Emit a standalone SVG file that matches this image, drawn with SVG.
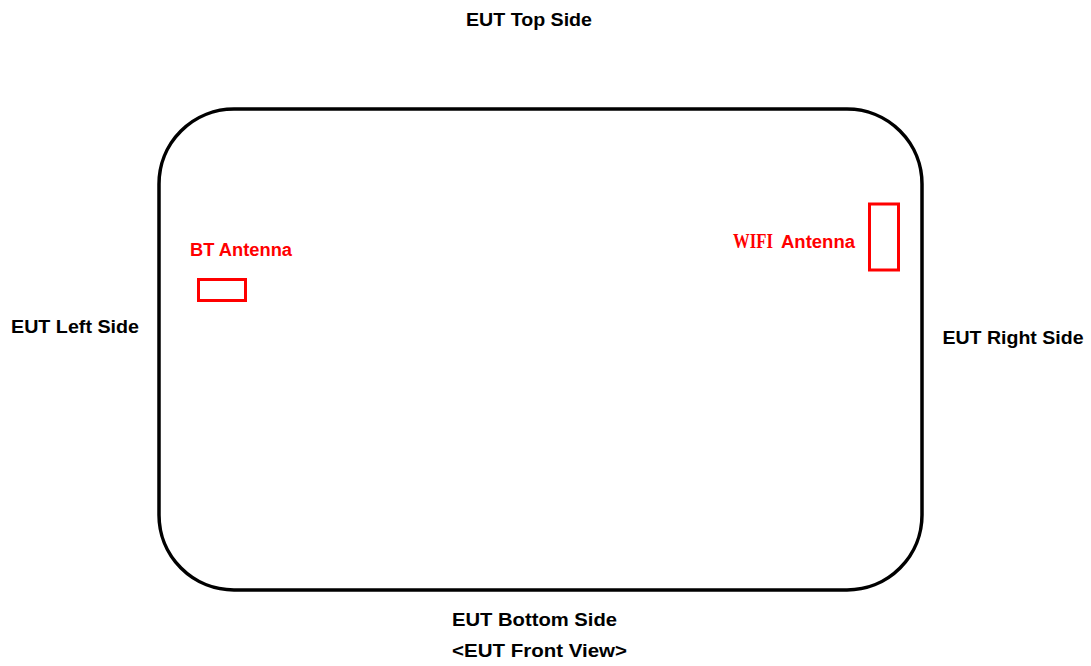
<svg xmlns="http://www.w3.org/2000/svg" width="1091" height="666" viewBox="0 0 1091 666">
<style>
.lbl{font-family:"Liberation Sans",Arial,sans-serif;font-weight:bold;font-size:19px;fill:#000;text-anchor:middle}
.red{font-family:"Liberation Sans",Arial,sans-serif;font-weight:bold;font-size:18px;fill:#ff0000}
.ant{fill:none;stroke:#ff0000;stroke-width:3}
</style>
<rect width="1091" height="666" fill="#fff"/>
<g id="eut">
<rect x="159" y="109" width="763" height="481" rx="75" ry="75" fill="none" stroke="#000" stroke-width="3.5"/>
</g>
<g id="bt-antenna">
<rect class="ant" x="198.5" y="279.5" width="47" height="21"/>
<text class="red" x="190" y="256" textLength="102" lengthAdjust="spacingAndGlyphs">BT Antenna</text>
</g>
<g id="wifi-antenna">
<rect class="ant" x="869.5" y="204" width="29" height="66"/>
<text x="733" y="248" font-family="Liberation Serif,serif" font-weight="bold" font-size="21" fill="#ff0000" textLength="40" lengthAdjust="spacingAndGlyphs">WIFI</text>
<text class="red" x="781" y="248" textLength="74" lengthAdjust="spacingAndGlyphs">Antenna</text>
</g>
<g id="labels">
<text class="lbl" x="529" y="26" textLength="126" lengthAdjust="spacingAndGlyphs">EUT Top Side</text>
<text class="lbl" x="75" y="333" textLength="128" lengthAdjust="spacingAndGlyphs">EUT Left Side</text>
<text class="lbl" x="1013" y="344" textLength="141" lengthAdjust="spacingAndGlyphs">EUT Right Side</text>
<text class="lbl" x="534.5" y="626" textLength="165" lengthAdjust="spacingAndGlyphs">EUT Bottom Side</text>
<text class="lbl" x="539.5" y="657" textLength="175" lengthAdjust="spacingAndGlyphs">&lt;EUT Front View&gt;</text>
</g>
<g id="connectors"/>
</svg>
